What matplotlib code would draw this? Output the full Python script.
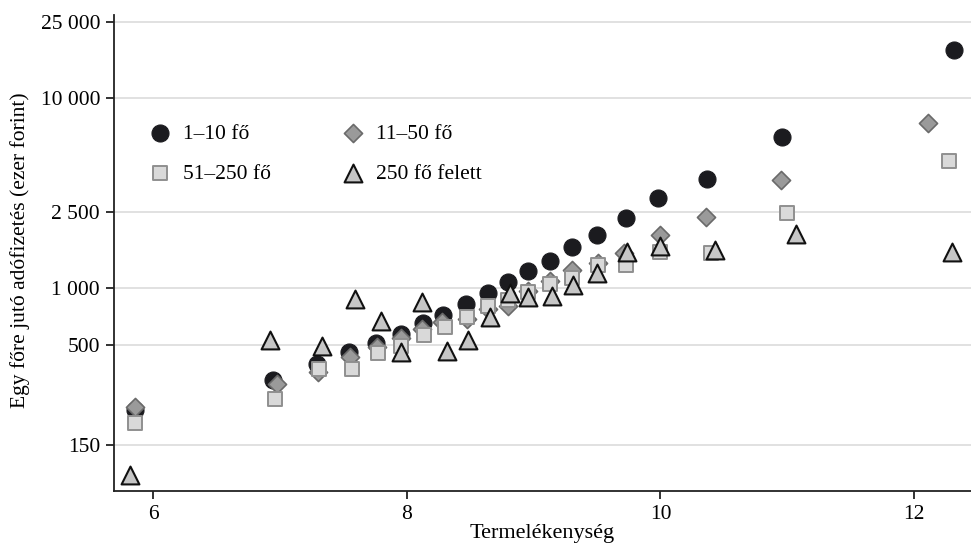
import matplotlib
matplotlib.use("Agg")
import matplotlib.pyplot as plt
from matplotlib.ticker import FixedLocator, NullLocator, FuncFormatter

plt.rcParams["font.family"] = ["Liberation Serif", "DejaVu Serif"]

# Termelékenység (x) és egy főre jutó adófizetés (y, ezer forint)
x_micro = [5.856, 6.942, 7.289, 7.543, 7.756, 7.951, 8.125, 8.287, 8.468, 8.642,
           8.800, 8.955, 9.128, 9.302, 9.502, 9.732, 9.983, 10.364, 10.961, 12.315]
y_micro = [229, 329, 398, 460, 513, 577, 655, 724, 823, 947,
           1080, 1233, 1391, 1642, 1887, 2345, 2976, 3722, 6229, 17760]

x_small = [5.856, 6.973, 7.297, 7.551, 7.764, 7.953, 8.117, 8.274, 8.472, 8.642,
           8.800, 8.957, 9.128, 9.299, 9.507, 9.716, 9.996, 10.359, 10.950, 12.112]
y_small = [237, 313, 362, 434, 490, 547, 607, 666, 688, 776,
           805, 965, 1088, 1243, 1348, 1536, 1887, 2368, 3690, 7348]

x_medium = [5.856, 6.960, 7.307, 7.565, 7.774, 7.953, 8.135, 8.300, 8.472, 8.642,
            8.800, 8.957, 9.128, 9.299, 9.509, 9.728, 9.996, 10.396, 10.998, 12.275]
y_medium = [196, 262, 374, 374, 458, 496, 567, 627, 705, 805,
            865, 956, 1046, 1125, 1313, 1321, 1551, 1532, 2485, 4644]

x_large = [5.816, 6.920, 7.328, 7.591, 7.796, 7.953, 8.121, 8.314, 8.484, 8.655,
           8.813, 8.957, 9.142, 9.312, 9.502, 9.733, 9.996, 10.430, 11.069, 12.301]
y_large = [104, 534, 496, 876, 674, 463, 841, 469, 534, 707,
           945, 900, 911, 1037, 1203, 1551, 1662, 1583, 1921, 1539]

y_ticks = [150, 500, 1000, 2500, 10000, 25000]
x_ticks = [6, 8, 10, 12]

fig = plt.figure(figsize=(9.71, 5.45), dpi=100)
ax = fig.add_axes([0.1174, 0.0991, 0.8826, 0.8734])

h_micro = ax.scatter(x_micro, y_micro, s=150, marker="o", facecolor="#1b1b1f",
                     edgecolor="#1b1b1f", linewidth=0.8, label="1–10 fő", zorder=3)
h_small = ax.scatter(x_small, y_small, s=85, marker="D", facecolor="#9a9a9a",
                     edgecolor="#6a6a6a", linewidth=1.2, label="11–50 fő", zorder=4)
h_medium = ax.scatter(x_medium, y_medium, s=98, marker="s", facecolor="#d9d9d9",
                      edgecolor="#8f8f8f", linewidth=1.4, label="51–250 fő", zorder=5)
h_large = ax.scatter(x_large, y_large, s=165, marker="^", facecolor="#c6c6c6",
                     edgecolor="#111111", linewidth=1.5, label="250 fő felett", zorder=6)

ax.set_yscale("log")
ax.set_xlim(5.69, 12.449)
ax.set_ylim(86, 27120)
ax.yaxis.set_major_locator(FixedLocator(y_ticks))
ax.yaxis.set_minor_locator(NullLocator())
ax.yaxis.set_major_formatter(FuncFormatter(lambda v, p: f"{int(round(v)):,}".replace(",", " ")))
ax.xaxis.set_major_locator(FixedLocator(x_ticks))
ax.xaxis.set_minor_locator(NullLocator())

ax.grid(axis="y", color="#dcdcdc", linewidth=1.2, zorder=0)
ax.set_axisbelow(True)
for side in ("top", "right"):
    ax.spines[side].set_visible(False)
for side in ("left", "bottom"):
    ax.spines[side].set_linewidth(1.3)
    ax.spines[side].set_color("#222222")
ax.tick_params(axis="both", direction="out", length=6, width=1.3,
               color="#222222", labelsize=15.5, pad=4)

ax.set_xlabel("Termelékenység", fontsize=16)
ax.xaxis.set_label_coords(0.5, -0.07)
ax.set_ylabel("Egy főre jutó adófizetés (ezer forint)", fontsize=15.5)
ax.yaxis.set_label_coords(-0.098, 0.505)

# row-wise legend: 1-10 | 11-50 / 51-250 | 250 felett
ax.legend(handles=[h_micro, h_medium, h_small, h_large], loc="upper left",
          bbox_to_anchor=(0.031, 0.79), ncol=2, frameon=False,
          fontsize=15.5, handlelength=1.0, handletextpad=0.55, columnspacing=3.35,
          labelspacing=0.95, scatterpoints=1, borderaxespad=0)

plt.savefig("out.png", dpi=100)
plt.close()
